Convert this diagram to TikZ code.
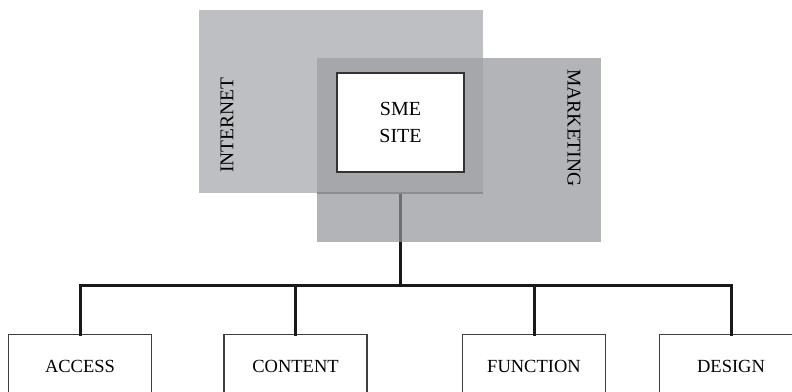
\documentclass[tikz,border=0pt]{standalone}
\usepackage{fontspec}
\setmainfont{Liberation Serif}
\definecolor{netgray}{HTML}{BEBFC3}
\definecolor{mktgray}{HTML}{B3B4B8}
\definecolor{mixgray}{HTML}{A6A7AB}
\definecolor{seamgray}{HTML}{8C8D91}
\definecolor{trunkgray}{HTML}{6E6F73}
\tikzset{
  leaf/.style={draw=black!75,line width=1.2pt,fill=white,anchor=north,
    minimum width=143pt,minimum height=64pt,inner sep=0pt,
    font=\fontsize{18.5}{22}\selectfont},
  wire/.style={line width=3pt,black!90},
}
\begin{document}
\begin{tikzpicture}[x=1pt,y=-1pt,>=stealth]
  \useasboundingbox (0,0) rectangle (792,391);
  \clip (0,0) rectangle (792,391);
  % the two fields and their overlap
  \fill[netgray](199,10) rectangle (483,193);
  \fill[mktgray](317,58) rectangle (601,242);
  \fill[mixgray](317,58) rectangle (483,193);
  \draw[seamgray,line width=2pt](317,193)--(483,193);
  \node[rotate=90,font=\fontsize{19.5}{23}\selectfont] (internet) at (227,125){INTERNET};
  \node[rotate=-90,font=\fontsize{19.5}{23}\selectfont] (marketing) at (574,128){MARKETING};
  \node[draw=black!80,line width=1.4pt,fill=white,minimum width=127pt,minimum height=99pt,
    align=center,inner sep=0pt,font=\fontsize{20}{27.5}\selectfont] (site) at (400.5,122.5){SME\\SITE};
  % trunk and bus
  \coordinate (hub) at (400,194);
  \coordinate (edge) at (400,242);
  \coordinate (junction) at (400,285);
  \draw[trunkgray,line width=3pt](hub)--(edge);
  \draw[wire](edge)--(junction);
  \foreach \n/\x/\t in {access/80/ACCESS,content/295.5/CONTENT,function/534/FUNCTION,design/731/DESIGN}{
    \node[leaf] (\n) at (\x,334){\t};
    \draw[wire,line cap=rect](junction)-|(\n.north);}
\end{tikzpicture}
\end{document}
